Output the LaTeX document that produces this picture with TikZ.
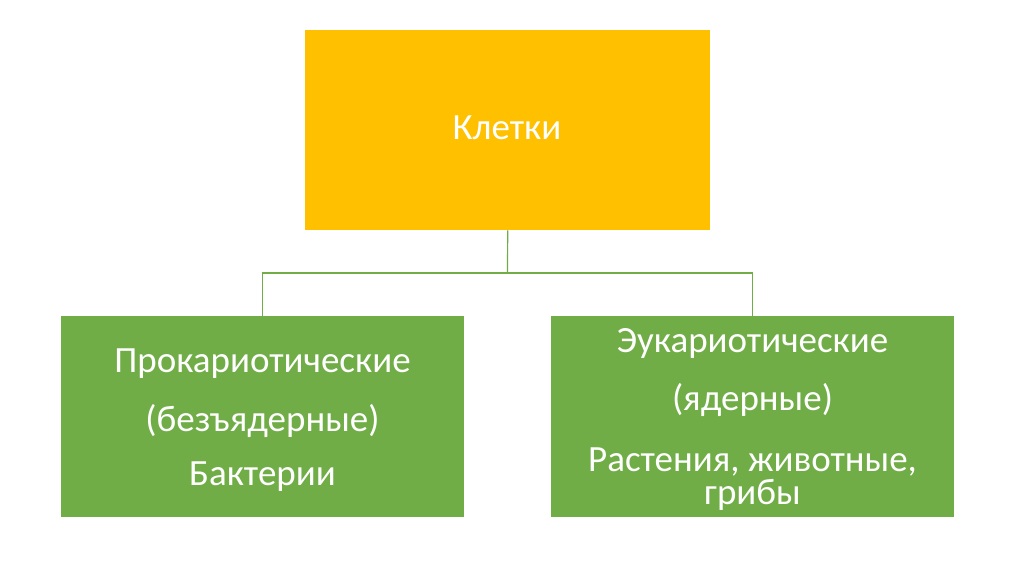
\documentclass[tikz,border=0pt]{standalone}
\usepackage{fontspec}
\setmainfont{Carlito}
\definecolor{boxyellow}{HTML}{FFC000}
\definecolor{boxgreen}{HTML}{70AD47}
\begin{document}
\begin{tikzpicture}[x=1pt,y=-1pt,
  txt/.style={text=white,font=\fontsize{37}{42}\selectfont,anchor=base,inner sep=0pt},
  link/.style={draw=boxgreen,line width=1.2pt}]
\useasboundingbox[fill=white] (0,0) rectangle (1024,574);
\node[fill=boxyellow,minimum width=405pt,minimum height=200pt,inner sep=0pt,anchor=north west] (top) at (305,30) {};
\node[fill=boxgreen,minimum width=403pt,minimum height=201pt,inner sep=0pt,anchor=north west] (left) at (61,316) {};
\node[fill=boxgreen,minimum width=403pt,minimum height=201pt,inner sep=0pt,anchor=north west] (right) at (551,316) {};
\node[txt] (t0) at (507,139) {Клетки};
\node[txt] (l1) at (262.5,372) {Прокариотические};
\node[txt] (l2) at (262.5,431) {(безъядерные)};
\node[txt] (l3) at (262.5,485) {Бактерии};
\node[txt] (r1) at (752.5,352) {Эукариотические};
\node[txt] (r2) at (752.5,410) {(ядерные)};
\node[txt] (r3) at (752.5,471) {Растения, животные,};
\node[txt] (r4) at (752.5,504) {грибы};
\coordinate (hub) at (507.5,273);
\draw[link] (top.south) -- (hub);
\draw[link] (hub) -| (left.north);
\draw[link] (hub) -| (right.north);
\end{tikzpicture}
\end{document}
